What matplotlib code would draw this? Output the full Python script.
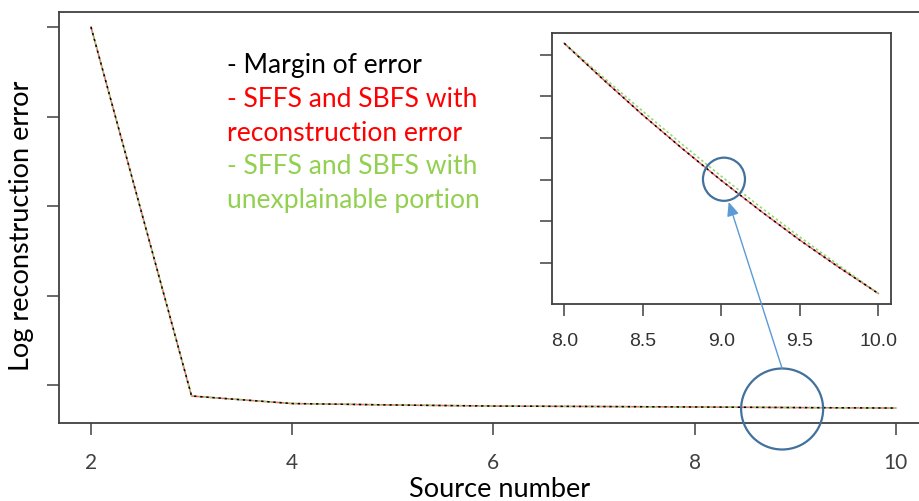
import matplotlib.pyplot as plt
from matplotlib.patches import Ellipse, ConnectionPatch

# ---- data ----
source = [2, 3, 4, 5, 6, 7, 8, 9, 10]
err_margin = [4.0, -0.123, -0.207, -0.223, -0.235, -0.240, -0.24546, -0.25204, -0.25746]
err_recon = [4.0, -0.123, -0.207, -0.223, -0.235, -0.240, -0.24546, -0.25204, -0.25746]
err_unexpl = [4.0, -0.123, -0.207, -0.223, -0.235, -0.240, -0.24546, -0.25190, -0.25746]

# zoomed part, source number 8 to 10
zoom_source = [8.0, 8.25, 8.5, 8.75, 9.0, 9.25, 9.5, 9.75, 10.0]
zoom_margin = [-0.24546, -0.24721, -0.24890, -0.25050, -0.25204,
               -0.25350, -0.25490, -0.25621, -0.25746]
zoom_recon = [-0.24546, -0.24721, -0.24890, -0.25050, -0.25204,
              -0.25350, -0.25490, -0.25621, -0.25746]
zoom_unexpl = [-0.24546, -0.24710, -0.24872, -0.25030, -0.25184,
               -0.25332, -0.25475, -0.25612, -0.25746]

main_yticks = [0, 1, 2, 3, 4]
zoom_yticks = [-0.246, -0.248, -0.250, -0.252, -0.254, -0.256]

note_lines = ["- Margin of error",
              "- SFFS and SBFS with", "reconstruction error",
              "- SFFS and SBFS with", "unexplainable portion"]
note_colors = ["black", "#ff0000", "#ff0000", "#92d050", "#92d050"]

W, H = 920, 502
fig = plt.figure(figsize=(W / 100, H / 100), dpi=100)

frame_col = "#404040"
red = "#f0606a"
green = "#8fdc6a"


def pad_lim(v, f=0.04):
    lo, hi = min(v), max(v)
    d = (hi - lo) * f
    return lo - d, hi + d


def style_axes(ax):
    for s in ax.spines.values():
        s.set_color(frame_col)
        s.set_linewidth(1.3)
    ax.tick_params(direction="out", length=8.5, width=1.1, color=frame_col)


def draw_series(ax, x, m, r, u):
    ax.plot(x, r, color=red, lw=1.1, zorder=2)
    ax.plot(x, u, color=green, lw=1.2, linestyle=(0, (1.5, 1.5)), zorder=3)
    ax.plot(x, m, color="black", lw=1.1, linestyle=(0, (1.5, 2.5)), zorder=4)


# ---- main panel ----
ax = fig.add_axes([58.8 / W, 1 - 424.3 / H, (928 - 58.8) / W, (424.3 - 12.8) / H])
draw_series(ax, source, err_margin, err_recon, err_unexpl)
ax.set_xlim(pad_lim(source))
ax.set_ylim(pad_lim(err_margin))
ax.set_xticks([2, 4, 6, 8, 10])
ax.set_yticks(main_yticks)
ax.set_yticklabels([])
style_axes(ax)
for lab in ax.get_xticklabels():
    lab.set_fontfamily("Lato")
    lab.set_fontsize(15)
    lab.set_color("#404040")
ax.tick_params(axis="x", pad=12)

fig.text(500 / W, 1 - 490 / H, "Source number", family="Lato", fontsize=19.5,
         ha="center", va="center")
fig.text(22 / W, 1 - 226 / H, "Log reconstruction error", family="Lato", fontsize=19.5,
         ha="center", va="center", rotation=90)

# coloured notes, one line each
for i, (txt, col) in enumerate(zip(note_lines, note_colors)):
    fig.text(227 / W, 1 - (73 + 33.8 * i) / H, txt, family="Lato", fontsize=19.1,
             color=col, ha="left", va="baseline")

# circle marking the zoomed region
c_main = (8.87, -0.268)
r_main = (82 / 100.6, 81 / 89.5)
ax.add_patch(Ellipse(c_main, r_main[0], r_main[1], fill=False, edgecolor="#41719c",
                     lw=1.6, clip_on=False, zorder=6))

# ---- inset ----
axi = fig.add_axes([551.7 / W, 1 - 304.5 / H, (890.9 - 551.7) / W, (304.5 - 34.3) / H])
draw_series(axi, zoom_source, zoom_margin, zoom_recon, zoom_unexpl)
axi.set_xlim(pad_lim(zoom_source))
axi.set_ylim(pad_lim(zoom_margin))
axi.set_xticks([8.0, 8.5, 9.0, 9.5, 10.0])
axi.set_xticklabels(["8.0", "8.5", "9.0", "9.5", "10.0"])
axi.set_yticks(zoom_yticks)
axi.set_yticklabels([])
style_axes(axi)
for lab in axi.get_xticklabels():
    lab.set_fontfamily("Liberation Sans")
    lab.set_fontsize(14)
    lab.set_color("#333333")
axi.tick_params(axis="x", pad=12)

c_zoom = (9.017, -0.25198)
r_zoom = (42 / 157, 44 / 42.5 * 0.002)
axi.add_patch(Ellipse(c_zoom, r_zoom[0], r_zoom[1], fill=False, edgecolor="#41719c",
                      lw=1.6, zorder=6))

arrow = ConnectionPatch(xyA=(c_main[0], c_main[1] + r_main[1] / 2), coordsA=ax.transData,
                        xyB=(c_zoom[0] + 0.03, c_zoom[1] - r_zoom[1] / 2 * 1.05),
                        coordsB=axi.transData,
                        arrowstyle="-|>,head_length=0.7,head_width=0.3",
                        color="#5b9bd5", lw=1.0, mutation_scale=12, zorder=7)
fig.add_artist(arrow)

fig.savefig("out.png", dpi=100)
